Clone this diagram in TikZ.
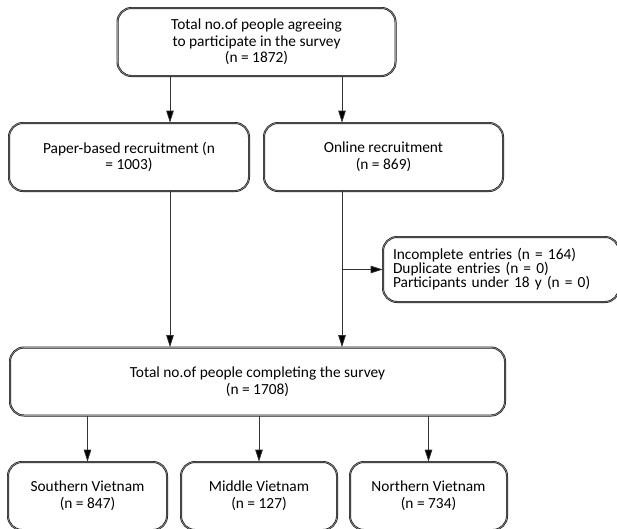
\documentclass[tikz,border=0pt]{standalone}
\usepackage{fontspec}
\setmainfont{Carlito}
\usetikzlibrary{arrows.meta}
\begin{document}
\begin{tikzpicture}[x=1pt,y=-1pt,
    box/.style={draw=black!90,double=black!40,double distance=0.6pt,line width=0.7pt,
      rounded corners=14pt,align=center,minimum height=68pt,inner sep=0pt,
      font=\fontsize{15.4}{16.7}\selectfont},
    arr/.style={draw=black!80,line width=0.7pt,-{Triangle[length=12pt,width=7.5pt,fill=black]}}]
      \useasboundingbox (0,0) rectangle (617,528);
      \node[box,minimum width=278pt] (total) at (256.5,42) {Total no.of people agreeing\\to participate in the survey\\(n = 1872)};
      \node[box,minimum width=240pt] (paper) at (129,157) {Paper-based recruitment (n\\= 1003)};
      \node[box,minimum width=239pt] (online) at (383.5,157) {Online recruitment\\(n = 869)};
      \node[box,minimum width=236pt,minimum height=65pt,align=left,text width=216pt,
        font=\fontsize{15.4}{14}\selectfont] (excl) at (501,269.5) {Incomplete entries (n = 164)\\Duplicate entries (n = 0)\\Participants under 18 y (n = 0)};
      \node[box,minimum width=495pt] (complete) at (257.5,381.5) {Total no.of people completing the survey\\(n = 1708)};
      \node[box,minimum width=159pt] (south) at (87.5,496) {Southern Vietnam\\(n = 847)};
      \node[box,minimum width=156pt] (middle) at (259,496) {Middle Vietnam\\(n = 127)};
      \node[box,minimum width=157pt] (north) at (428.5,496) {Northern Vietnam\\(n = 734)};
      \coordinate (colA) at (170,0);
      \coordinate (colB) at (342,0);
      \draw[arr] (total.south -| colA) -- (paper.north -| colA);
      \draw[arr] (total.south -| colB) -- (online.north -| colB);
      \draw[arr] (paper.south -| colA) -- (complete.north -| colA);
      \draw[arr] (online.south -| colB) -- (complete.north -| colB);
      \draw[arr] (excl.west -| colB) -- (excl.west);
      \draw[arr] (complete.south -| south.north) -- (south.north);
      \draw[arr] (complete.south -| middle.north) -- (middle.north);
      \draw[arr] (complete.south -| north.north) -- (north.north);
    \end{tikzpicture}
\end{document}
